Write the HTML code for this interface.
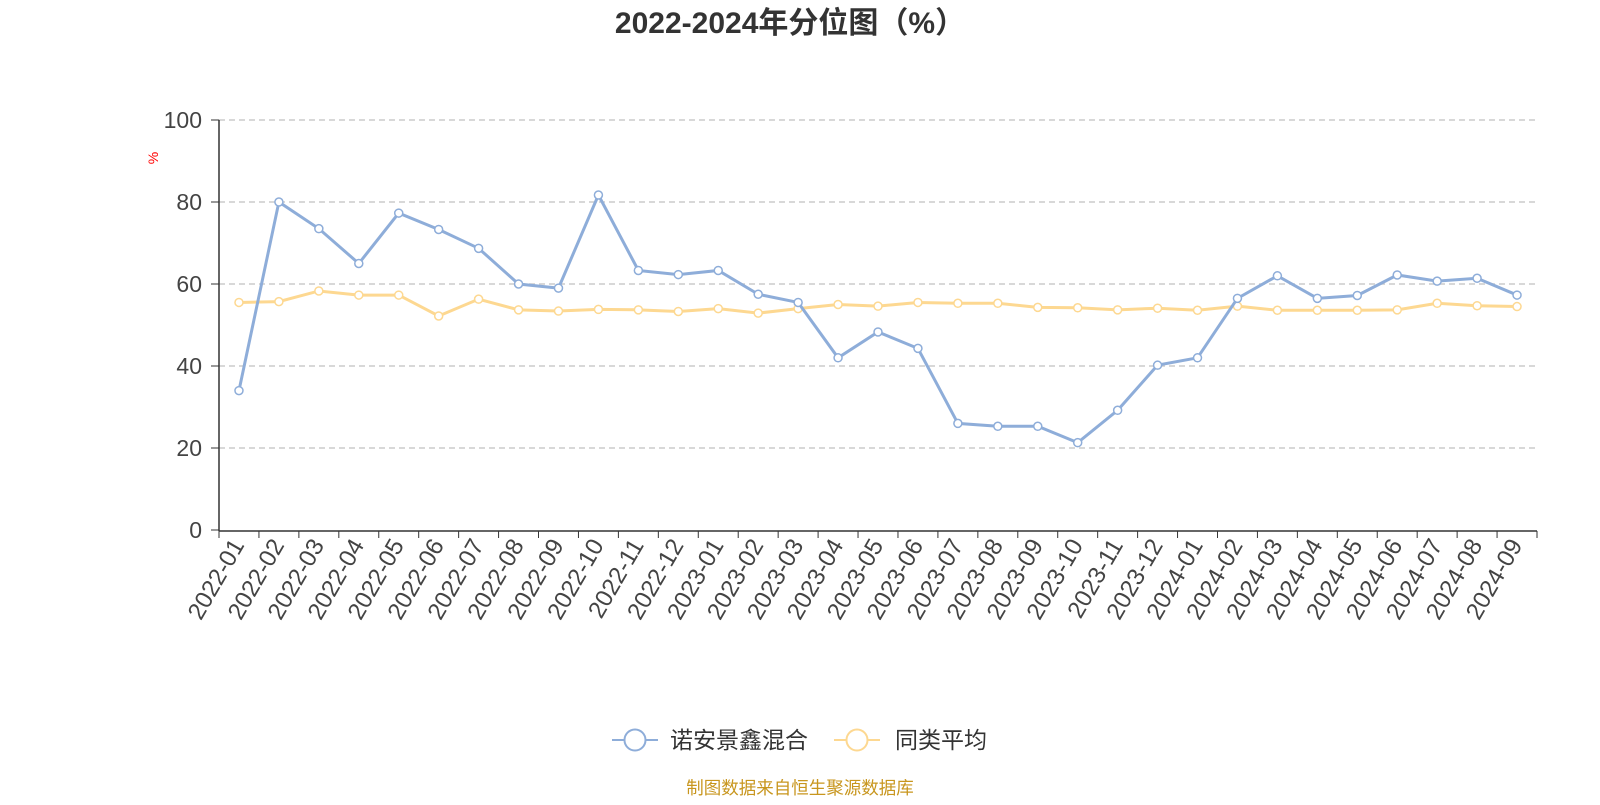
<!DOCTYPE html>
<html><head><meta charset="utf-8"><style>
body{margin:0;background:#fff;width:1600px;height:800px;overflow:hidden}
text{font-family:"Liberation Sans","Noto Sans CJK SC",sans-serif}
</style></head><body>
<svg id="s" width="1600" height="800" xmlns="http://www.w3.org/2000/svg">
<text x="790" y="33" text-anchor="middle" font-size="30" font-weight="bold" fill="#333">2022-2024年分位图（%）</text>
<text x="0" y="0" transform="translate(158,158) rotate(-90)" text-anchor="middle" font-size="14" fill="red">%</text>
<g id="g"></g>
<line x1="612" y1="740" x2="658" y2="740" stroke="#8eadd9" stroke-width="2"/>
<circle cx="635" cy="740" r="10.5" fill="#fff" stroke="#8eadd9" stroke-width="2"/>
<text x="670" y="748" font-size="23" fill="#333">诺安景鑫混合</text>
<line x1="834" y1="740" x2="880" y2="740" stroke="#fdd891" stroke-width="2"/>
<circle cx="857" cy="740" r="10.5" fill="#fff" stroke="#fdd891" stroke-width="2"/>
<text x="895" y="748" font-size="23" fill="#333">同类平均</text>
<text x="800" y="794" text-anchor="middle" font-size="17.5" fill="#c8961e">制图数据来自恒生聚源数据库</text>
</svg>
<script>
var b=[34,80,73.5,65,77.3,73.3,68.7,60,59,81.7,63.3,62.3,63.3,57.5,55.5,42,48.3,44.3,26,25.3,25.3,21.3,29.2,40.2,42,56.5,62,56.5,57.2,62.2,60.7,61.4,57.3];
var y=[55.5,55.7,58.3,57.3,57.3,52.2,56.3,53.7,53.4,53.8,53.7,53.3,54,52.9,54,55,54.6,55.5,55.3,55.3,54.3,54.2,53.7,54.1,53.6,54.6,53.6,53.6,53.6,53.7,55.3,54.7,54.5];
var X0=219,X1=1537,Y0=530,k=4.1,n=33,w=(X1-X0)/n,h='';
for(var v=0;v<=100;v+=20){var yy=Y0-v*k;
 if(v>0)h+='<line x1="'+X0+'" y1="'+yy+'" x2="'+X1+'" y2="'+yy+'" stroke="#ccc" stroke-width="1.5" stroke-dasharray="6,4"/>';
 h+='<line x1="211" y1="'+yy+'" x2="219" y2="'+yy+'" stroke="#333"/>';
 h+='<text x="202" y="'+(yy+8)+'" text-anchor="end" font-size="23" fill="#444">'+v+'</text>';}
h+='<line x1="219" y1="120" x2="219" y2="531" stroke="#333" stroke-width="1.5"/>';
h+='<line x1="219" y1="531" x2="1537" y2="531" stroke="#333" stroke-width="1.5"/>';
for(var i=0;i<=n;i++){var x=X0+i*w;h+='<line x1="'+x+'" y1="531" x2="'+x+'" y2="538" stroke="#333"/>';}
for(var i=0;i<n;i++){var x=X0+(i+.5)*w,yr=2022+Math.floor(i/12),m=i%12+1;
 h+='<text transform="translate('+(x+6)+',545) rotate(-60)" text-anchor="end" font-size="24" fill="#444">'+yr+'-'+(m<10?'0':'')+m+'</text>';}
function ser(d,c){var p=d.map(function(v,i){return (X0+(i+.5)*w)+','+(Y0-v*k)}).join(' ');
 var s='<polyline points="'+p+'" fill="none" stroke="'+c+'" stroke-width="3"/>';
 d.forEach(function(v,i){s+='<circle cx="'+(X0+(i+.5)*w)+'" cy="'+(Y0-v*k)+'" r="4" fill="#fff" stroke="'+c+'" stroke-width="1.5"/>'});return s;}
h+=ser(y,'#fdd891')+ser(b,'#8eadd9');
document.getElementById('g').innerHTML=h;
</script>
</body></html>
